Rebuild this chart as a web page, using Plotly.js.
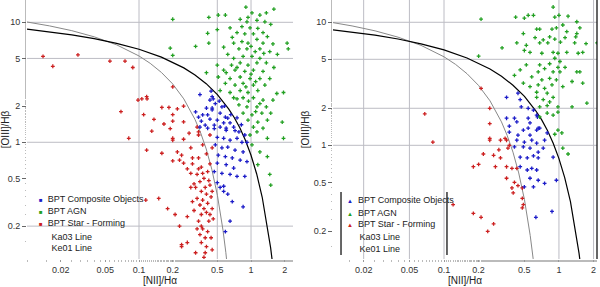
<!DOCTYPE html>
<html><head><meta charset="utf-8">
<script src="https://cdn.plot.ly/plotly-3.0.1.min.js"></script>
<style>html,body{margin:0;padding:0;background:#fff}#chart{width:600px;height:287px}</style>
</head><body><div id="chart"></div>
<script>
// ---- Left panel data ----
const leftRedX = [0.0139,0.0285,0.017,0.055,0.075,0.088,0.069,0.081,0.098,0.106,0.117,0.118,0.2,0.16,0.185,0.22,0.25,0.11,0.136,0.2,0.2,0.167,0.25,0.19,0.33,0.13,0.2,0.2,0.25,0.28,0.34,0.22,0.24,0.29,0.3,0.2,0.25,0.3,0.34,0.36,0.29,0.33,0.37,0.41,0.35,0.39,0.43,0.32,0.36,0.4,0.45,0.33,0.37,0.41,0.45,0.4,0.35,0.36,0.43,0.46,0.34,0.36,0.33,0.37,0.35,0.39,0.41,0.36,0.4,0.45,0.32,0.39,0.27,0.24,0.23,0.18,0.15,0.115,0.27,0.3,0.29,0.27,0.23,0.43,0.37,0.43,0.34,0.117,0.16,0.21,0.24,0.38,0.42,0.31,0.44,0.38,0.42,0.31,0.44,0.38,0.34,0.4,0.45];
const leftRedY = [5.2,5.35,4.3,4.75,4.75,4.2,1.8,1.08,2.25,2.3,2.4,2.3,2.9,1.95,1.95,1.9,2.0,1.7,1.55,1.7,1.5,1.42,1.48,1.3,1.34,1.24,1.08,1.04,1.06,1.19,1.15,0.83,0.78,0.9,0.74,0.7,0.67,0.66,0.74,0.62,0.55,0.54,0.55,0.57,0.47,0.42,0.44,0.42,0.39,0.37,0.39,0.34,0.33,0.31,0.28,0.26,0.3,0.25,0.25,0.23,0.22,0.2,0.19,0.19,0.17,0.16,0.18,0.146,0.135,0.127,0.12,0.12,0.146,0.14,0.2,0.28,0.34,0.33,0.24,0.32,0.42,0.6,0.71,0.66,0.95,1.15,1.22,0.86,0.81,0.25,0.135,0.5,0.48,0.45,0.35,0.28,0.22,0.27,0.16,0.11,0.6,0.8,0.9];
const leftBlueX = [0.44,0.46,0.35,0.43,0.4,0.45,0.32,0.37,0.41,0.34,0.36,0.43,0.39,0.41,0.35,0.45,0.48,0.45,0.53,0.59,0.5,0.57,0.65,0.47,0.53,0.6,0.7,0.62,0.55,0.47,0.6,0.72,0.78,0.5,0.57,0.65,0.75,0.83,0.48,0.55,0.62,0.72,0.85,0.51,0.59,0.68,0.8,0.92,0.5,0.6,0.7,0.47,0.55,0.65,0.75,0.88,0.5,0.57,0.62,0.68,0.85,0.65,0.59,0.57,0.53,0.82,0.88,0.66,0.75,0.52,0.58,0.92];
const leftBlueY = [2.67,2.3,2.5,2.25,1.93,1.93,1.79,1.69,1.69,1.62,1.5,1.56,1.39,1.31,1.34,2.4,2.1,1.86,1.75,1.62,1.53,1.45,1.45,1.39,1.34,1.31,1.34,1.59,1.97,1.3,1.26,1.25,1.22,1.1,1.08,1.04,1.08,1.0,0.95,0.9,0.91,0.86,0.83,0.78,0.76,0.74,0.71,0.69,0.67,0.65,0.61,0.57,0.55,0.54,0.52,0.52,0.46,0.43,0.37,0.32,0.29,0.22,0.18,0.39,0.42,1.4,1.15,1.7,1.6,2.2,2.0,1.0];
const leftGreenX = [0.2,0.42,0.41,0.42,0.19,0.32,0.2,0.4,0.9,1.02,0.51,0.59,0.94,1.2,1.37,1.6,0.8,0.92,1.13,1.33,1.5,0.65,0.83,0.98,1.15,0.5,0.75,0.88,1.05,1.28,1.4,1.13,0.7,0.83,0.94,1.28,1.57,2.1,2.15,0.57,0.78,0.92,1.09,1.47,0.62,0.85,1.02,1.2,1.72,0.5,0.67,0.8,0.94,1.13,1.37,1.6,0.57,0.72,0.88,1.05,1.28,0.51,0.65,0.8,0.98,1.2,1.47,0.59,0.72,0.85,1.05,1.33,0.53,0.65,0.8,0.94,1.15,1.7,1.95,0.7,0.85,1.05,1.28,1.57,0.78,0.92,1.13,1.37,0.85,1.02,1.25,1.5,0.94,1.15,1.4,1.05,1.28,1.9,0.98,1.13,1.4,1.02,1.2,1.4,1.15,1.47,1.5,1.95,0.7,0.75,1.0,1.1,0.9,0.6,1.2,1.1,0.75,0.95,1.3,0.68,1.0,1.2];
const leftGreenY = [10.6,11,8.1,6.7,6.1,6.3,5.3,3.8,13.4,12,11.5,11.5,11,11.5,12,12.9,10.6,10.1,10.4,10.1,9.6,9.0,9.2,9.0,8.9,8.7,8.2,8.0,8.0,8.2,7.6,7.2,6.7,6.9,6.7,6.7,6.6,6.7,6.0,6.2,6.0,6.0,5.7,5.7,5.4,5.2,5.2,5.0,5.4,4.4,4.4,4.6,4.4,4.6,4.6,4.2,4.0,4.0,3.9,4.0,3.9,3.5,3.4,3.5,3.4,3.4,3.4,3.1,3.0,3.1,3.0,3.0,2.7,2.6,2.7,2.6,2.7,2.55,2.6,2.35,2.35,2.35,2.25,2.25,2.05,1.97,1.97,1.97,1.75,1.69,1.75,1.75,1.53,1.47,1.53,1.34,1.31,1.47,1.15,1.22,1.08,0.95,0.83,0.76,0.65,0.54,0.44,1.08,5.0,4.2,3.7,3.2,2.9,3.8,2.1,1.8,2.3,2.2,5.5,7.5,6.3,6.0];

// ---- Right panel data ----
const rightRedX = [0.08,0.25,0.31,0.35,0.22,0.18,0.2,0.27,0.3,0.31,0.28,0.35,0.39,0.43,0.35,0.41,0.44,0.39,0.48,0.4,0.48,0.49,0.48,0.12,0.18,0.21,0.27,0.24,0.37,0.36,0.21,0.25,0.25,0.068,0.25,0.34];
const rightRedY = [1.06,1.1,1.1,1.1,0.85,0.67,0.7,0.83,0.92,0.79,0.67,0.67,0.65,0.65,0.54,0.5,0.47,0.45,0.45,0.41,0.37,0.33,0.31,0.33,0.28,0.26,0.23,0.2,1.0,0.95,2.9,2.0,1.5,1.8,1.14,1.14];
const rightBlueX = [0.35,0.44,0.46,0.47,0.54,0.6,0.64,0.35,0.41,0.43,0.54,0.56,0.37,0.66,0.37,0.44,0.49,0.54,0.56,0.64,0.68,0.79,0.43,0.5,0.58,0.64,0.75,0.41,0.49,0.56,0.66,0.73,0.46,0.53,0.6,0.66,0.89,0.53,0.58,0.64,0.56,0.66,0.5,0.6,0.75,0.95,0.63,0.87,0.46,0.65];
const rightBlueY = [2.45,2.65,2.35,2.05,2.0,1.93,1.76,1.66,1.66,1.55,1.66,1.52,1.43,1.38,1.28,1.21,1.33,1.38,1.21,1.33,1.38,1.26,1.1,1.06,1.1,1.04,1.1,0.97,0.97,0.95,0.88,0.95,0.8,0.79,0.82,0.79,0.8,0.63,0.65,0.63,0.54,0.52,0.46,0.46,0.49,0.52,0.26,0.29,0.67,1.7];
const rightGreenX = [0.21,0.89,0.42,0.5,0.54,0.6,0.92,1.0,1.2,1.43,1.52,0.64,0.68,0.87,0.95,1.08,1.17,1.43,0.49,0.62,0.73,0.83,0.92,1.03,1.13,1.4,1.37,1.72,2.15,0.43,0.52,0.68,0.8,0.32,0.5,0.56,0.71,0.89,0.98,1.17,1.47,1.61,0.2,0.92,1.02,0.83,0.52,0.68,0.98,1.13,1.43,1.52,0.46,0.66,0.75,0.89,1.02,0.41,0.58,0.71,0.83,0.95,1.3,1.61,0.49,0.56,0.66,0.75,0.87,1.08,0.64,0.79,0.89,0.64,0.73,0.83,0.68,0.79,0.98,1.3,1.75,0.89,0.98,0.79,0.68,0.98,1.06,0.92,1.08,1.2];
const rightGreenY = [10.6,13.3,11,10.8,11.4,11.4,11,11.4,11.2,10.1,9.0,8.8,8.8,8.8,9.0,9.5,8.4,8.1,8.1,7.5,7.2,7.6,7.3,6.9,7.5,7.6,6.8,6.7,6.8,6.8,6.5,6.8,6.8,6.2,5.9,5.7,5.6,5.7,5.6,5.7,5.6,5.7,5.3,5.1,4.8,4.6,4.5,4.5,4.3,4.3,3.95,3.95,4.1,3.95,4.2,3.95,3.95,3.7,3.6,3.4,3.5,3.4,3.3,3.2,3.2,3.0,3.1,2.9,3.1,3.0,2.7,2.65,2.45,2.45,2.35,2.25,2.05,2.1,2.05,2.05,2.2,1.76,1.86,1.83,1.7,1.33,1.26,1.23,0.95,0.85];

// ---- Demarcation lines (sampled, same in both panels) ----
const ke01X = [0.01,0.01585,0.02512,0.03981,0.0631,0.1,0.1585,0.2512,0.3162,0.3981,0.5012,0.631,0.7079,0.7943,0.8913,1.0,1.122,1.259,1.413,1.496,1.585];
const ke01Y = [8.77,8.34,7.86,7.31,6.68,5.96,5.13,4.17,3.64,3.08,2.50,1.90,1.61,1.32,1.04,0.780,0.547,0.348,0.192,0.1325,0.0853];
const ka03X = [0.01,0.01585,0.02512,0.03981,0.0631,0.1,0.1259,0.1585,0.1995,0.2512,0.3162,0.3548,0.3981,0.4467,0.5012,0.531,0.5623,0.5957,0.631];
const ka03Y = [10.06,9.34,8.52,7.57,6.49,5.24,4.55,3.82,3.07,2.30,1.55,1.20,0.880,0.596,0.361,0.265,0.185,0.121,0.0724];

// ---- Axis ticks / grids ----
const tickValsX = [0.02,0.05,0.1,0.2,0.5,1,2];
const tickValsY = [0.2,0.5,1,2,5,10];
const leftGridX = [0.1,0.5,1];
const leftGridY = [10,5,1,0.2];
const rightGridX = [0.02,0.05,0.1,1,2];
const rightGridY = [10,5,2,1];

const seriesNames = ['BPT Composite Objects','BPT AGN','BPT Star - Forming','Ka03 Line','Ke01 Line'];
const colBlue = '#1c1cc8', colGreen = '#22a022', colRed = '#cc2020';

function pts(x, y, color, xa, ya) {
  return {x: x, y: y, xaxis: xa, yaxis: ya, type: 'scatter', mode: 'markers', showlegend: false,
    marker: {symbol: 'cross', size: 3.2, color: color, line: {width: 0}}, hoverinfo: 'skip'};
}
function line(x, y, color, w, xa, ya) {
  return {x: x, y: y, xaxis: xa, yaxis: ya, type: 'scatter', mode: 'lines', showlegend: false,
    line: {color: color, width: w}, hoverinfo: 'skip'};
}

const traces = [
  line(ka03X, ka03Y, '#888888', 1, 'x', 'y'),
  line(ke01X, ke01Y, '#000000', 1.2, 'x', 'y'),
  pts(leftRedX, leftRedY, colRed, 'x', 'y'),
  pts(leftBlueX, leftBlueY, colBlue, 'x', 'y'),
  pts(leftGreenX, leftGreenY, colGreen, 'x', 'y'),
  line(ka03X, ka03Y, '#888888', 1, 'x2', 'y2'),
  line(ke01X, ke01Y, '#000000', 1.2, 'x2', 'y2'),
  pts(rightRedX, rightRedY, colRed, 'x2', 'y2'),
  pts(rightBlueX, rightBlueY, colBlue, 'x2', 'y2'),
  pts(rightGreenX, rightGreenY, colGreen, 'x2', 'y2')
];

const gridColor = '#bcbcc4';
const shapes = [];
function gridShapes(gx, gy, xr, yr) {
  gx.forEach(v => shapes.push({type: 'line', layer: 'below', xref: xr, yref: yr + ' domain',
    x0: v, x1: v, y0: 0, y1: 1, line: {color: gridColor, width: 1}}));
  gy.forEach(v => shapes.push({type: 'line', layer: 'below', xref: xr + ' domain', yref: yr,
    x0: 0, x1: 1, y0: v, y1: v, line: {color: gridColor, width: 1}}));
}
gridShapes(leftGridX, leftGridY, 'x', 'y');
gridShapes(rightGridX, rightGridY, 'x2', 'y2');
// right frame line and right legend box sides
shapes.push({type: 'line', xref: 'x2 domain', yref: 'y2 domain', x0: 1, x1: 1, y0: 0, y1: 1, line: {color: '#000', width: 1.2}});
shapes.push({type: 'line', xref: 'paper', yref: 'paper', x0: 0.5509, x1: 0.5509, y0: 0.0154, y1: 0.2587, line: {color: '#000', width: 1.2}});
shapes.push({type: 'line', xref: 'paper', yref: 'paper', x0: 0.7368, x1: 0.7368, y0: 0.0154, y1: 0.2587, line: {color: '#000', width: 1.2}});

// legend as annotations (tight row spacing as in the reference)
const legendColors = [colBlue, colGreen, colRed, null, null];
const annotations = [];
function legendAnn(x0, ys, sym) {
  seriesNames.forEach((name, i) => {
    const mk = legendColors[i] ? '<span style="color:' + legendColors[i] + ';font-size:6px">' + sym + '</span>  ' : '     ';
    annotations.push({xref: 'paper', yref: 'paper', x: x0, y: ys[i], xanchor: 'left', yanchor: 'middle',
      showarrow: false, text: mk + name, font: {family: 'Liberation Sans, Arial, sans-serif', size: 9, color: '#222'}});
  });
}
legendAnn(0.018, [0.2317, 0.1853, 0.139, 0.0849, 0.0425], '■');
legendAnn(0.5585, [0.2278, 0.1776, 0.1351, 0.0849, 0.0386], '▲');

const tickFont = {family: 'Liberation Sans, Arial, sans-serif', size: 9, color: '#333'};
const titleFont = {family: 'Liberation Sans, Arial, sans-serif', size: 10, color: '#222'};
function xax(domain, range) {
  return {type: 'log', domain: domain, range: range, tickmode: 'array', tickvals: tickValsX,
    ticktext: tickValsX.map(String), showgrid: false, zeroline: false, showline: false,
    ticks: 'outside', ticklen: 2, tickcolor: '#999', tickfont: tickFont,
    minor: {ticks: 'outside', ticklen: 1.5, tickcolor: '#bbb', showgrid: false},
    title: {text: '[NII]/Hα', font: titleFont, standoff: 2}};
}
function yax(range, anchor) {
  return {type: 'log', range: range, anchor: anchor, tickmode: 'array', tickvals: tickValsY,
    ticktext: tickValsY.map(String), showgrid: false, zeroline: false, showline: false,
    ticks: 'outside', ticklen: 4, tickcolor: '#666', tickfont: tickFont,
    minor: {ticks: 'outside', ticklen: 1.5, tickcolor: '#bbb', showgrid: false},
    title: {text: '[OIII]/Hβ', font: titleFont, standoff: 2}};
}

const layout = {
  width: 600, height: 287, margin: {l: 27, r: 3, t: 0, b: 28},
  paper_bgcolor: '#fff', plot_bgcolor: '#fff', showlegend: false,
  xaxis: Object.assign(xax([0, 0.4667], [-2, 0.375]), {anchor: 'y'}),
  yaxis: yax([-0.973, 1.186], 'x'),
  xaxis2: Object.assign(xax([0.537, 1], [-1.965, 0.331]), {anchor: 'y2'}),
  yaxis2: yax([-0.924, 1.181], 'x2'),
  shapes: shapes, annotations: annotations
};

Plotly.newPlot('chart', traces, layout, {staticPlot: true, displayModeBar: false});
</script></body></html>
